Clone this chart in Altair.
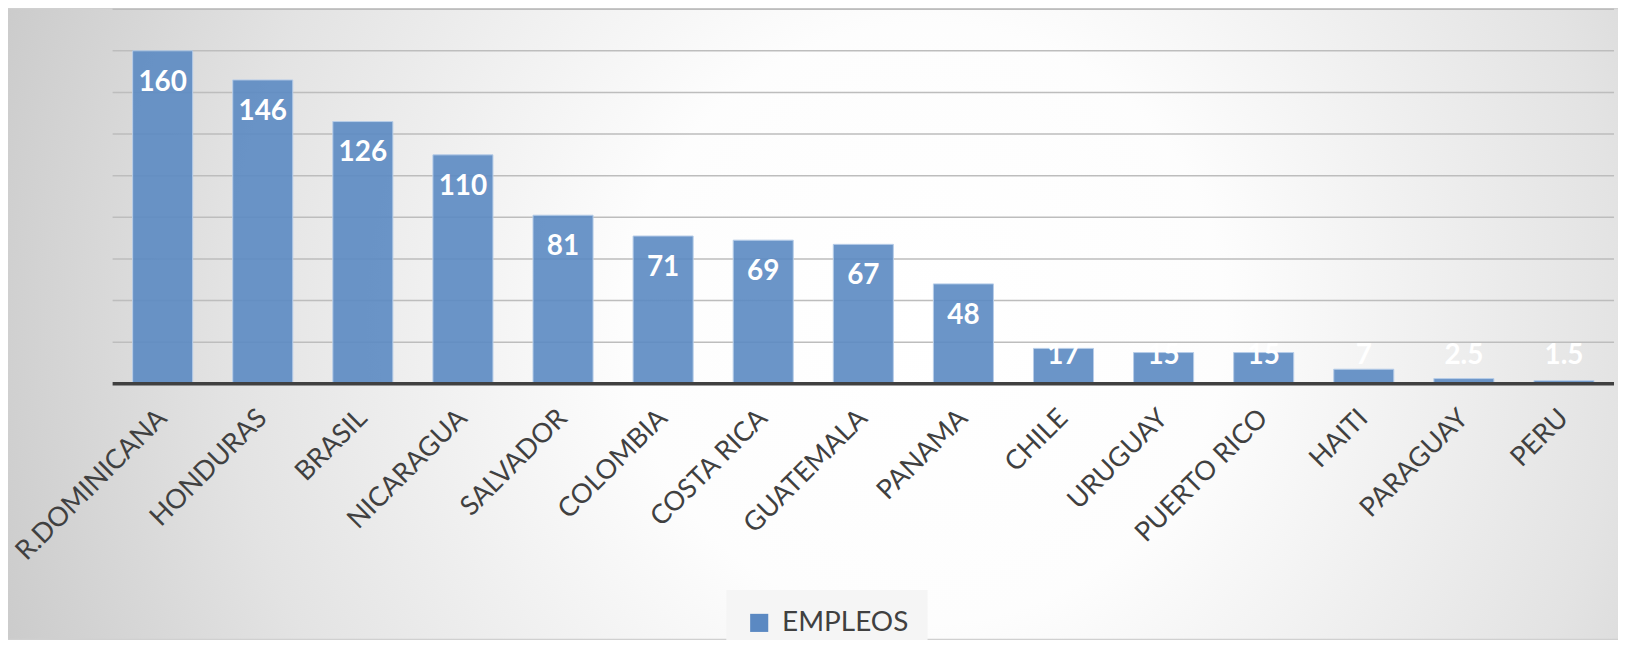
import altair as alt
import pandas as pd

countries = ["R.DOMINICANA", "HONDURAS", "BRASIL", "NICARAGUA", "SALVADOR", "COLOMBIA",
             "COSTA RICA", "GUATEMALA", "PANAMA", "CHILE", "URUGUAY", "PUERTO RICO",
             "HAITI", "PARAGUAY", "PERU"]
empleos = [160, 146, 126, 110, 81, 71, 69, 67, 48, 17, 15, 15, 7, 2.5, 1.5]
labels = ["160", "146", "126", "110", "81", "71", "69", "67", "48", "17", "15", "15", "7", "2.5", "1.5"]
series_name = "EMPLEOS"
grid_values = [20, 40, 60, 80, 100, 120, 140, 160, 180]

df = pd.DataFrame({"pais": countries, "valor": empleos, "etiqueta": labels,
                   "serie": [series_name] * len(countries)})
gdf = pd.DataFrame({"g": grid_values})

W, H = 1507, 376
PAD = {"left": 105, "top": 0, "right": 4, "bottom": 256}
BAR = "#5b89c2"
FONT = "Lato"

bg_gradient = {
    "gradient": "radial",
    "x1": 0.57, "y1": 0.5, "x2": 0.57, "y2": 0.5, "r1": 0, "r2": 0.62,
    "stops": [
        {"offset": 0.0, "color": "#ffffff"},
        {"offset": 0.3, "color": "#fdfdfd"},
        {"offset": 0.7, "color": "#e3e3e3"},
        {"offset": 1.0, "color": "#c9c9c9"},
    ],
}

background = alt.Chart(pd.DataFrame({"k": [0]})).mark_rect(fill=bg_gradient, strokeWidth=0).encode(
    x=alt.value(-PAD["left"]), x2=alt.value(W + PAD["right"]),
    y=alt.value(-PAD["top"]), y2=alt.value(H + PAD["bottom"]),
)

yscale = alt.Scale(domain=[0, 180], nice=False)

grid = alt.Chart(gdf).mark_rule(color="#bdbdbd", strokeWidth=1.5).encode(
    y=alt.Y("g:Q", scale=yscale, title=None, axis=None),
    x=alt.value(0), x2=alt.value(W),
)

xenc = alt.X("pais:N", sort=None, title=None,
             scale=alt.Scale(paddingInner=0.4, paddingOuter=0.2),
             axis=alt.Axis(labelAngle=-45, labelAlign="right", labelBaseline="middle",
                           labelFontSize=27, labelFont=FONT, labelColor="#404040",
                           labelPadding=30, labelLimit=0, ticks=False, domain=False,
                           grid=False, zindex=2))

bars = alt.Chart(df).mark_bar(stroke="#b7cde8", strokeWidth=1, fillOpacity=0.9).encode(
    x=xenc,
    y=alt.Y("valor:Q", scale=yscale, title=None, axis=None),
    color=alt.Color("serie:N", scale=alt.Scale(domain=[series_name], range=[BAR]),
                    legend=alt.Legend(title=None, orient="none", legendX=616, legendY=583,
                                      padding=19, fillColor="#f5f5f5", symbolType="square",
                                      symbolSize=330, symbolStrokeWidth=0,
                                      labelFontSize=28, labelFont=FONT, labelColor="#404040",
                                      labelOffset=9, zindex=2)),
)

baseline = alt.Chart(pd.DataFrame({"z": [0]})).mark_rule(color="#404040", strokeWidth=3.5).encode(
    y=alt.Y("z:Q", scale=yscale), x=alt.value(0), x2=alt.value(W)
)

text = alt.Chart(df).transform_calculate(
    ly="max(datum.valor, 28.8)"
).mark_text(color="white", fontWeight="bold", font=FONT, fontSize=28,
            baseline="middle", dy=32).encode(
    x=alt.X("pais:N", sort=None),
    y=alt.Y("ly:Q", scale=yscale),
    text="etiqueta:N",
)

chart = alt.layer(background, grid, bars, baseline, text).properties(
    width=W, height=H, autosize=alt.AutoSizeParams(type="none"), padding=PAD,
    background="#d0d0d0",
).configure_view(stroke=None)

chart.save("out.html", embed_options={"renderer": "svg", "actions": False})
